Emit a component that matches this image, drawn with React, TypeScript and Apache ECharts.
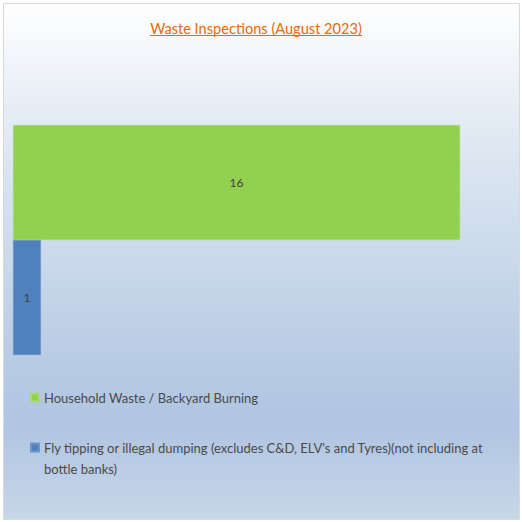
import React, { useEffect, useRef } from "react";
import * as echarts from "echarts";

const chartTitle = "Waste Inspections (August 2023)";
const categories = ["August 2023"];
const seriesNames = [
  "Household Waste / Backyard Burning",
  "Fly tipping or illegal dumping (excludes C&D, ELV's and Tyres)(not including at bottle banks)",
];
const householdValues = [16];
const flyTippingValues = [1];
const seriesColors = ["#92d050", "#4f81bd"];

const FONT = "Lato, 'Liberation Sans', sans-serif";

export default function App() {
  const ref = useRef<HTMLDivElement>(null);

  useEffect(() => {
    document.body.style.margin = "0";
    if (!ref.current) return;
    const chart = echarts.init(ref.current, null, { renderer: "svg" });

    const labelStyle = {
      show: true,
      position: "inside" as const,
      color: "#404040",
      fontSize: 12,
      fontFamily: FONT,
    };

    const legendText = {
      color: "#4a4a4a",
      fontSize: 13,
      fontFamily: FONT,
      lineHeight: 21,
    };

    chart.setOption({
      animation: false,
      textStyle: { fontFamily: FONT },
      graphic: [
        {
          type: "rect",
          z: -10,
          silent: true,
          shape: { x: 3.5, y: 3.5, width: 516, height: 516 },
          style: {
            stroke: "#d9d9d9",
            lineWidth: 1,
            fill: new echarts.graphic.LinearGradient(0, 0, 0, 1, [
              { offset: 0, color: "#ffffff" },
              { offset: 0.2, color: "#e6edf5" },
              { offset: 0.7, color: "#b7cbe4" },
              { offset: 0.82, color: "#b0c5e1" },
              { offset: 1, color: "#c7d7ea" },
            ]),
          },
        },
        {
          type: "text",
          x: 256,
          y: 28,
          style: {
            text: chartTitle,
            fill: "#e46c0a",
            font: `14.6px ${FONT}`,
            textAlign: "center",
            textVerticalAlign: "middle",
          },
        },
        {
          type: "line",
          shape: { x1: 150, y1: 35.5, x2: 362, y2: 35.5 },
          style: { stroke: "#e46c0a", lineWidth: 1.2 },
        },
      ],
      grid: { left: 13, top: 125, width: 503, height: 230 },
      xAxis: { type: "value", min: 0, max: 18, show: false },
      yAxis: { type: "category", data: categories, inverse: true, show: false },
      legend: [
        {
          data: [seriesNames[0]],
          orient: "vertical",
          left: 30,
          top: 387,
          padding: 0,
          itemWidth: 8,
          itemHeight: 8,
          icon: "rect",
          textStyle: legendText,
        },
        {
          data: [seriesNames[1]],
          orient: "vertical",
          left: 30,
          top: 416,
          padding: 0,
          itemWidth: 8,
          itemHeight: 8,
          icon: "rect",
          // leading blank line keeps the marker level with the first wrapped line
          formatter: (name: string) => "\n" + name.replace(" bottle banks)", "\nbottle banks)"),
          textStyle: legendText,
        },
      ],
      series: [
        {
          name: seriesNames[0],
          type: "bar",
          data: householdValues,
          barGap: "0%",
          barCategoryGap: "0%",
          itemStyle: { color: seriesColors[0], borderColor: "#a8d977", borderWidth: 0.6 },
          label: labelStyle,
        },
        {
          name: seriesNames[1],
          type: "bar",
          data: flyTippingValues,
          barGap: "0%",
          barCategoryGap: "0%",
          itemStyle: { color: seriesColors[1], borderColor: "#6d95c8", borderWidth: 0.6 },
          label: labelStyle,
        },
      ],
    });

    return () => chart.dispose();
  }, []);

  return <div ref={ref} style={{ width: 522, height: 522 }} />;
}
